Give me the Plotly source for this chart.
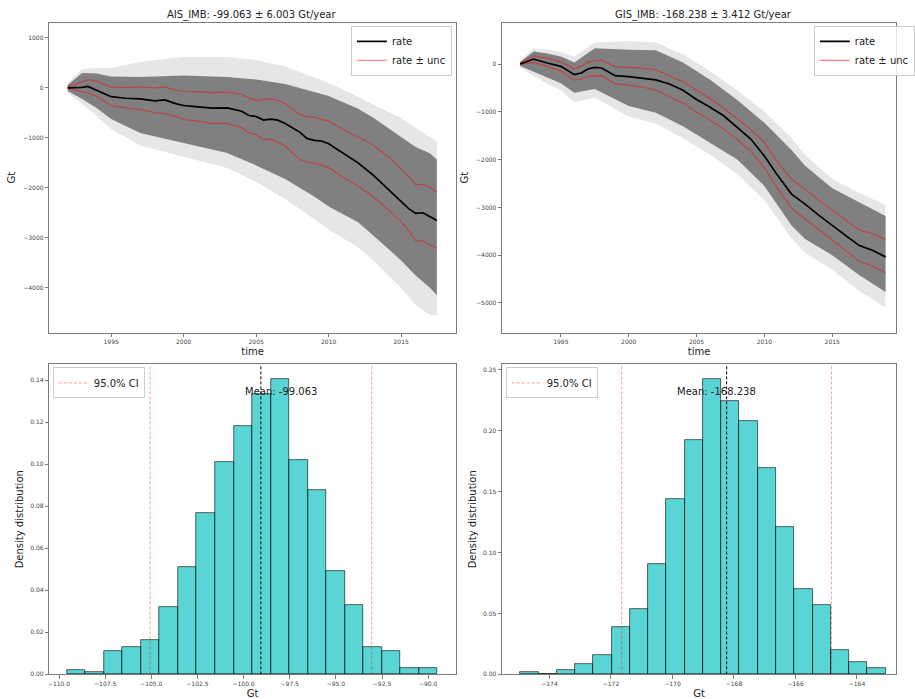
import numpy as np
import plotly.graph_objects as go

# ---------------- data ----------------
ais_mean, ais_unc = -99.063, 6.003
gis_mean, gis_unc = -168.238, 3.412

ais_t = [1992, 1993, 1993.4, 1994, 1995, 1996, 1997, 1998, 1998.7, 1999.5,
         2000, 2001, 2002, 2003, 2004, 2004.5, 2005, 2005.5, 2006, 2006.5,
         2007, 2008, 2008.5, 2009, 2009.5, 2010, 2011, 2012, 2013, 2014,
         2015, 2015.5, 2016, 2016.5, 2017, 2017.46]
ais_rate = [0, 10, 30, -50, -175, -206, -219, -260, -239, -318,
            -352, -378, -405, -398, -465, -551, -571, -644, -624, -644,
            -710, -883, -1009, -1049, -1062, -1116, -1308, -1494, -1726, -1992,
            -2258, -2410, -2510, -2497, -2577, -2650]
ais_hi = [20, 126, 166, 133, 20, 7, 20, 0, 20, -46,
          -66, -73, -93, -80, -126, -199, -246, -232, -219, -246,
          -312, -531, -578, -584, -618, -664, -830, -976, -1129, -1348,
          -1614, -1760, -1939, -1926, -1992, -2092]
ais_lo = [-10, -80, -100, -166, -352, -398, -432, -498, -511, -578,
          -631, -664, -710, -710, -797, -896, -936, -1029, -1029, -1082,
          -1162, -1428, -1481, -1507, -1541, -1594, -1793, -1959, -2158, -2410,
          -2676, -2855, -3054, -3061, -3134, -3207]

ais_band_t = [1992, 1993, 1994, 1995, 1997, 2000, 2003, 2005, 2007, 2009,
              2010, 2012, 2013, 2015, 2016, 2017, 2017.46]
ais_core_hi = [60, 300, 290, 230, 220, 250, 220, 170, 80, -80,
               -160, -410, -580, -980, -1180, -1310, -1430]
ais_core_lo = [-60, -220, -400, -620, -900, -1100, -1300, -1550, -1820, -2170,
               -2370, -2680, -2930, -3450, -3750, -4000, -4150]
ais_fringe_hi = [100, 380, 400, 400, 520, 620, 620, 560, 430, 220,
                 100, -170, -320, -600, -800, -980, -1080]
ais_fringe_lo = [-100, -320, -560, -820, -1150, -1380, -1600, -1880, -2220, -2620,
                 -2830, -3180, -3430, -4000, -4350, -4550, -4550]

gis_t = [1992, 1993, 1994, 1995, 1996, 1996.5, 1997, 1997.5, 1998, 1999,
         2000, 2001, 2002, 2003, 2004, 2005, 2006, 2007, 2008, 2009,
         2010, 2011, 2012, 2013, 2014, 2015, 2016, 2017, 2018, 2018.93]
gis_rate = [0, 104, 21, -49, -222, -188, -104, -69, -83, -243,
            -264, -292, -333, -417, -549, -743, -903, -1083, -1319, -1569,
            -1924, -2340, -2722, -2931, -3160, -3382, -3590, -3799, -3903, -4035]
gis_hi = [20, 174, 118, 49, -104, -49, 35, 75, 83, -56,
          -69, -83, -118, -236, -368, -549, -722, -924, -1139, -1368,
          -1646, -2063, -2410, -2618, -2847, -3056, -3250, -3472, -3556, -3674]
gis_lo = [-10, 35, -49, -146, -340, -313, -250, -240, -243, -410,
          -444, -479, -549, -674, -813, -1007, -1174, -1361, -1583, -1826,
          -2167, -2618, -3014, -3243, -3472, -3681, -3903, -4132, -4229, -4368]

gis_band_t = [1992, 1993, 1994, 1995, 1996, 1997.5, 2000, 2002, 2004, 2006,
              2008, 2010, 2012, 2013, 2015, 2017, 2018.93]
gis_core_hi = [40, 260, 220, 160, 30, 330, 300, 290, 30, -330,
               -750, -1230, -1800, -2130, -2600, -2900, -3180]
gis_core_lo = [-40, -150, -280, -400, -600, -520, -880, -1020, -1300, -1650,
               -2000, -2550, -3380, -3660, -4000, -4420, -4770]
gis_fringe_hi = [80, 330, 300, 250, 150, 450, 480, 450, 200, -150,
                 -550, -1000, -1550, -1900, -2400, -2700, -2950]
gis_fringe_lo = [-80, -250, -420, -550, -800, -700, -1100, -1250, -1550, -1900,
                 -2300, -2850, -3650, -3950, -4300, -4750, -5100]

ais_bin_start, ais_bin_width = -109.56, 1.003
ais_density = [0.0022, 0.0010, 0.0112, 0.0129, 0.0161, 0.0320, 0.0508, 0.0767,
               0.1009, 0.1179, 0.1333, 0.1405, 0.1017, 0.0878, 0.0489, 0.0330,
               0.0129, 0.0112, 0.0028, 0.0028]
gis_bin_start, gis_bin_width = -174.944, 0.5939
gis_density = [0.0019, 0.0, 0.0033, 0.0087, 0.0155, 0.0387, 0.0536, 0.0901,
               0.1441, 0.1925, 0.2424, 0.2244, 0.2075, 0.1691, 0.1206, 0.0703,
               0.0572, 0.0202, 0.0101, 0.0049]

# ---------------- styling ----------------
FONT = "DejaVu Sans"
GRAY = "rgb(128,128,128)"
FRINGE = "rgba(128,128,128,0.2)"
RED = "rgba(255,0,0,0.5)"
BAR = "rgba(0,191,191,0.65)"
BAR_EDGE = "rgba(0,0,0,0.6)"
CI = "rgba(255,0,0,0.4)"
SPINE = "#7a7a7a"
TXT = "#222222"

fig = go.Figure()


def band(t, hi, lo, color, xa, ya):
    fig.add_trace(go.Scatter(
        x=list(t) + list(t)[::-1], y=list(hi) + list(lo)[::-1],
        fill="toself", fillcolor=color, mode="lines", line=dict(width=0),
        showlegend=False, hoverinfo="skip", xaxis=xa, yaxis=ya))


def series(t, rate, hi, lo, xa, ya, leg):
    fig.add_trace(go.Scatter(x=t, y=hi, mode="lines", line=dict(color=RED, width=1.1),
                             name="rate ± unc", legend=leg, legendrank=2,
                             xaxis=xa, yaxis=ya))
    fig.add_trace(go.Scatter(x=t, y=lo, mode="lines", line=dict(color=RED, width=1.1),
                             showlegend=False, xaxis=xa, yaxis=ya))
    fig.add_trace(go.Scatter(x=t, y=rate, mode="lines", line=dict(color="black", width=1.7),
                             name="rate", legend=leg, legendrank=1,
                             xaxis=xa, yaxis=ya))


band(ais_band_t, ais_fringe_hi, ais_fringe_lo, FRINGE, "x", "y")
band(ais_band_t, ais_core_hi, ais_core_lo, GRAY, "x", "y")
series(ais_t, ais_rate, ais_hi, ais_lo, "x", "y", "legend")

band(gis_band_t, gis_fringe_hi, gis_fringe_lo, FRINGE, "x2", "y2")
band(gis_band_t, gis_core_hi, gis_core_lo, GRAY, "x2", "y2")
series(gis_t, gis_rate, gis_hi, gis_lo, "x2", "y2", "legend2")


def hist(start, width, dens, mean, unc, ytop, xa, ya, leg):
    dens = np.array(dens)
    centers = start + width * (np.arange(len(dens)) + 0.5)
    fig.add_trace(go.Bar(x=centers, y=dens, width=width,
                         marker=dict(color=BAR, line=dict(color=BAR_EDGE, width=1)),
                         showlegend=False, xaxis=xa, yaxis=ya))
    fig.add_trace(go.Scatter(x=[mean, mean], y=[0, ytop], mode="lines",
                             line=dict(color="black", width=1, dash="3px,2px"),
                             showlegend=False, xaxis=xa, yaxis=ya))
    lo, hi = mean - unc, mean + unc
    fig.add_trace(go.Scatter(x=[lo, lo, None, hi, hi], y=[0, ytop, None, 0, ytop],
                             mode="lines", line=dict(color=CI, width=1, dash="3px,2px"),
                             name="95.0% CI", legend=leg, xaxis=xa, yaxis=ya))


ais_ytop = 0.1476
gis_ytop = 0.2546
hist(ais_bin_start, ais_bin_width, ais_density, ais_mean, ais_unc, ais_ytop, "x3", "y3", "legend3")
hist(gis_bin_start, gis_bin_width, gis_density, gis_mean, gis_unc, gis_ytop, "x4", "y4", "legend4")

W, H = 915, 699
xl = [49.3 / W, 465 / W]
xr = [512.3 / W, 1.0]
yt = [1 - 334 / H, 1 - 22.7 / H]
yb = [1 - 677.3 / H, 1 - 365.7 / H]

axis_common = dict(showline=True, linecolor=SPINE, linewidth=1, mirror=True,
                   ticks="outside", ticklen=3.5, tickwidth=1, tickcolor=SPINE,
                   tickfont=dict(family=FONT, size=6, color="#444444"),
                   showgrid=False, zeroline=False)
title_font = dict(family=FONT, size=10, color=TXT)


def xax(domain, anchor, rng, title, **kw):
    d = dict(axis_common)
    d.update(domain=domain, anchor=anchor, range=rng,
             title=dict(text=title, font=title_font, standoff=3))
    d.update(kw)
    return d


def yax(domain, anchor, rng, title, standoff, **kw):
    d = dict(axis_common)
    d.update(domain=domain, anchor=anchor, range=rng,
             title=dict(text=title, font=title_font, standoff=standoff))
    d.update(kw)
    return d


legend_common = dict(font=dict(family=FONT, size=10, color=TXT),
                     bgcolor="rgba(255,255,255,0.8)", bordercolor="#cccccc",
                     borderwidth=1, itemwidth=30, yanchor="top", tracegroupgap=0)

fig.update_layout(
    width=W, height=H, autosize=False,
    margin=dict(l=0, r=0, t=0, b=0),
    paper_bgcolor="white", plot_bgcolor="white",
    font=dict(family=FONT, color=TXT),
    bargap=0,
    xaxis=xax(xl, "y", [1990.73, 2018.77], "time", tick0=1995, dtick=5),
    yaxis=yax(yt, "x", [-4894, 1307], "Gt", 5, dtick=1000),
    xaxis2=xax(xr, "y2", [1990.67, 2019.70], "time", tick0=1995, dtick=5),
    yaxis2=yax(yt, "x2", [-5619, 867], "Gt", 5, dtick=1000),
    xaxis3=xax(xl, "y3", [-110.53, -88.5], "Gt", tick0=-110, dtick=2.5, tickformat=".1f"),
    yaxis3=yax(yb, "x3", [0, ais_ytop], "Density distribution", 4, dtick=0.02, tickformat=".2f"),
    xaxis4=xax(xr, "y4", [-175.54, -162.73], "Gt", tick0=-174, dtick=2),
    yaxis4=yax(yb, "x4", [0, gis_ytop], "Density distribution", 4, dtick=0.05, tickformat=".2f"),
    legend=dict(legend_common, x=461 / W, xanchor="right", y=1 - 26 / H),
    legend2=dict(legend_common, x=831 / W, xanchor="left", y=1 - 26 / H),
    legend3=dict(legend_common, x=53 / W, xanchor="left", y=1 - 369 / H),
    legend4=dict(legend_common, x=516 / W, xanchor="left", y=1 - 369 / H),
)

# titles
fig.add_annotation(text=f"AIS_IMB: {ais_mean:.3f} ± {ais_unc:.3f} Gt/year",
                   xref="paper", yref="paper", x=257 / W, y=1 - 15 / H,
                   xanchor="center", yanchor="middle", showarrow=False,
                   font=dict(family=FONT, size=10, color=TXT))
fig.add_annotation(text=f"GIS_IMB: {gis_mean:.3f} ± {gis_unc:.3f} Gt/year",
                   xref="paper", yref="paper", x=718 / W, y=1 - 15 / H,
                   xanchor="center", yanchor="middle", showarrow=False,
                   font=dict(family=FONT, size=10, color=TXT))

# mean labels
fig.add_annotation(text=f"Mean: {ais_mean:.3f}", xref="x3", yref="y3",
                   x=ais_mean * 1.01, y=0.1346, xanchor="left", yanchor="middle",
                   showarrow=False, font=dict(family=FONT, size=10, color=TXT))
fig.add_annotation(text=f"Mean: {gis_mean:.3f}", xref="x4", yref="y4",
                   x=gis_mean * 1.01, y=0.2323, xanchor="left", yanchor="middle",
                   showarrow=False, font=dict(family=FONT, size=10, color=TXT))

fig.write_html("out.html", config={"displayModeBar": False},
               post_script="document.body.style.margin='0';document.body.style.overflow='hidden';")
